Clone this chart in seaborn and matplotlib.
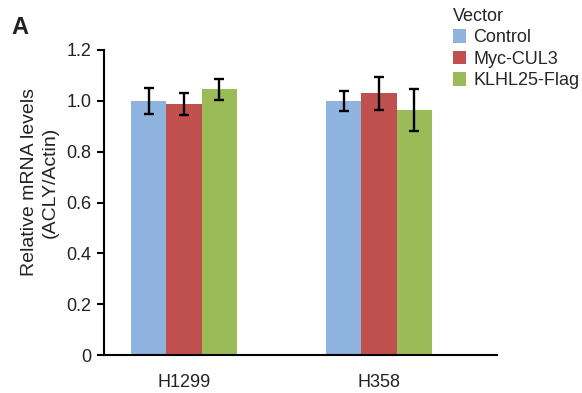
import matplotlib
matplotlib.use("Agg")
import matplotlib.pyplot as plt
import seaborn as sns
import pandas as pd
import numpy as np

cells = ["H1299", "H358"]
vectors = ["Control", "Myc-CUL3", "KLHL25-Flag"]
h1299_vals = [1.00, 0.987, 1.045]
h358_vals = [1.00, 1.029, 0.964]
h1299_err = [0.05, 0.042, 0.041]
h358_err = [0.04, 0.066, 0.082]
colors = ["#8EB3DE", "#C0504D", "#9BBB59"]
yticks = [0, 0.2, 0.4, 0.6, 0.8, 1.0, 1.2]
ytick_labels = ["0", "0.2", "0.4", "0.6", "0.8", "1.0", "1.2"]

rows = []
for c, vals, errs in [(cells[0], h1299_vals, h1299_err), (cells[1], h358_vals, h358_err)]:
    for v, val, e in zip(vectors, vals, errs):
        rows.append({"cell": c, "Vector": v, "value": val, "err": e})
df = pd.DataFrame(rows)

sns.set_style("white")
plt.rcParams["font.family"] = ["Liberation Sans", "DejaVu Sans"]

fig = plt.figure(figsize=(5.82, 3.93), dpi=100)
ax = fig.add_axes([104/582, 1-355/393, (497-104)/582, (355-50)/393])

sns.barplot(data=df, x="cell", y="value", hue="Vector", order=cells, hue_order=vectors,
            palette=colors, width=0.546, errorbar=None, ax=ax, saturation=1,
            linewidth=0, legend=True)

# error bars at bar centers (from patches)
for patch_container, v in zip(ax.containers, vectors):
    sub = df[df["Vector"] == v].set_index("cell").loc[cells]
    xs = [p.get_x() + p.get_width()/2 for p in patch_container.patches]
    ax.errorbar(xs, sub["value"].values, yerr=sub["err"].values, fmt="none",
                ecolor="black", elinewidth=1.7, capsize=3.8, capthick=1.7, zorder=5)

ax.set_ylim(0, 1.2)
ax.set_xlim((104-184)/195, (497-184)/195)
ax.set_yticks(yticks)
ax.set_yticklabels(ytick_labels, fontsize=13, color="#222222")
ax.set_xticks([(104-184)/195, (301-184)/195, (497-184)/195])
ax.set_xticklabels([])
ax.set_xticks([0, 1], minor=True)
ax.set_xticklabels(cells, minor=True, fontsize=13, color="#222222")
ax.tick_params(axis="x", which="major", direction="out", length=6, width=1.5, color="black")
ax.tick_params(axis="x", which="minor", length=0, pad=14)
ax.tick_params(axis="y", direction="out", length=5, width=1.5, color="black", left=True, pad=4)
ax.set_xlabel("")
ax.set_ylabel("")
for s in ["top", "right"]:
    ax.spines[s].set_visible(False)
for s in ["left", "bottom"]:
    ax.spines[s].set_color("black")
    ax.spines[s].set_linewidth(1.5)

fig.text(40/582, 1-182/393, "Relative mRNA levels\n(ACLY/Actin)", fontsize=14, color="#222222",
         rotation=90, ha="center", va="center", multialignment="center", linespacing=1.3)

leg = ax.legend(title="Vector", loc="upper left", bbox_to_anchor=(451/582, 1-6/393), bbox_transform=fig.transFigure,
                frameon=False, fontsize=13, title_fontsize=13, handlelength=0.75, handleheight=0.75,
                handletextpad=0.4, labelspacing=0.25, borderaxespad=0, borderpad=0.1)
leg._legend_box.align = "left"

fig.text(11/582, 1-28/393, "A", fontsize=17, fontweight="bold", va="center", ha="left", color="#222222")

fig.savefig("out.png", dpi=100)
